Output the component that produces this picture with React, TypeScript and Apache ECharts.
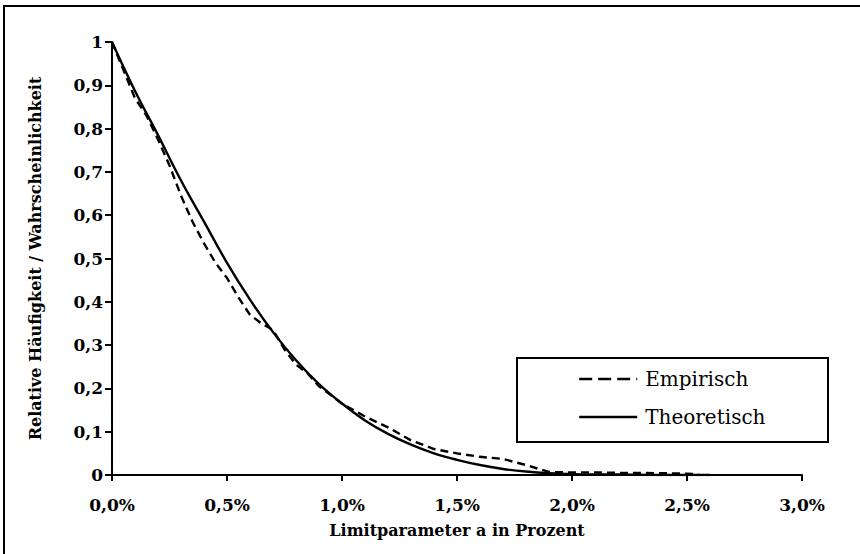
import React, { useEffect, useRef } from "react";
import * as echarts from "echarts";

// Limitparameter a in Prozent
const empX = [0, 0.05, 0.1, 0.15, 0.2, 0.25, 0.3, 0.35, 0.4, 0.45, 0.5, 0.55, 0.6, 0.65, 0.7, 0.75, 0.8, 0.85, 0.9, 0.95, 1.0, 1.05, 1.1, 1.2, 1.3, 1.4, 1.5, 1.6, 1.7, 1.8, 1.9, 2.0, 2.1, 2.2, 2.3, 2.4, 2.5, 2.55];
const empY = [1.0, 0.935, 0.87, 0.83, 0.775, 0.715, 0.645, 0.585, 0.535, 0.49, 0.455, 0.41, 0.37, 0.35, 0.335, 0.29, 0.255, 0.235, 0.205, 0.185, 0.165, 0.15, 0.135, 0.11, 0.08, 0.06, 0.05, 0.042, 0.037, 0.023, 0.007, 0.006, 0.006, 0.005, 0.005, 0.004, 0.003, 0.002];

const theoX = [0, 0.1, 0.2, 0.3, 0.4, 0.5, 0.6, 0.7, 0.8, 0.9, 1.0, 1.1, 1.2, 1.3, 1.4, 1.5, 1.6, 1.7, 1.8, 1.9, 2.0, 2.2, 2.4, 2.6];
const theoY = [1.0, 0.887, 0.785, 0.68, 0.585, 0.49, 0.405, 0.33, 0.265, 0.21, 0.165, 0.126, 0.095, 0.07, 0.05, 0.035, 0.023, 0.014, 0.008, 0.004, 0.002, 0.001, 0.0, 0.0];

const seriesNames = ["Empirisch", "Theoretisch"];
const xTitle = "Limitparameter a in Prozent";
const yTitle = "Relative Häufigkeit / Wahrscheinlichkeit";

const FONT = "DejaVu Serif";

export default function App() {
  const ref = useRef<HTMLDivElement>(null);
  useEffect(() => {
    document.body.style.margin = "0";
    if (!ref.current) return;
    const chart = echarts.init(ref.current, undefined, { renderer: "svg" });
    const empData = empX.map((x, i) => [x, empY[i]]);
    const theoData = theoX.map((x, i) => [x, theoY[i]]);
    chart.setOption({
      animation: false,
      backgroundColor: "#ffffff",
      grid: { left: 112, right: 58, top: 42, bottom: 79, containLabel: false },
      xAxis: {
        type: "value",
        min: 0,
        max: 3,
        interval: 0.5,
        name: xTitle,
        nameLocation: "middle",
        nameGap: 47,
        nameTextStyle: { fontFamily: FONT, fontWeight: "bold", fontSize: 16, color: "#000" },
        axisLine: { lineStyle: { color: "#000", width: 2 } },
        axisTick: { show: true, length: 6, lineStyle: { color: "#000", width: 2 } },
        axisLabel: {
          color: "#000",
          fontFamily: FONT,
          fontWeight: "bold",
          fontSize: 17,
          margin: 21,
          formatter: (v: number) => v.toFixed(1).replace(".", ",") + "%",
        },
        splitLine: { show: false },
      },
      yAxis: {
        type: "value",
        min: 0,
        max: 1,
        interval: 0.1,
        name: yTitle,
        nameLocation: "middle",
        nameGap: 69,
        nameRotate: 90,
        nameTextStyle: { fontFamily: FONT, fontWeight: "bold", fontSize: 16, color: "#000" },
        axisLine: { show: true, lineStyle: { color: "#000", width: 2 } },
        axisTick: { show: true, length: 7, lineStyle: { color: "#000", width: 2 } },
        axisLabel: {
          color: "#000",
          fontFamily: FONT,
          fontWeight: "bold",
          fontSize: 17,
          margin: 9,
          formatter: (v: number) => {
            if (Math.abs(v) < 1e-9) return "0";
            if (Math.abs(v - 1) < 1e-9) return "1";
            return v.toFixed(1).replace(".", ",");
          },
        },
        splitLine: { show: false },
      },
      legend: {
        orient: "vertical",
        left: 578,
        top: 369,
        itemWidth: 58,
        itemHeight: 14,
        itemGap: 18,
        padding: 0,
        itemStyle: { opacity: 0 },
        textStyle: { fontFamily: FONT, fontSize: 20, color: "#000", padding: [0, 0, 0, 3] },
        data: [
          { name: seriesNames[0], lineStyle: { type: [13, 6], width: 2.4, color: "#000" } },
          { name: seriesNames[1], lineStyle: { width: 2.4, color: "#000" } },
        ],
      },
      graphic: [
        {
          type: "rect",
          shape: { x: 4, y: 6, width: 900, height: 600 },
          style: { fill: "none", stroke: "#000", lineWidth: 2 },
          silent: true,
        },
        {
          type: "rect",
          shape: { x: 517, y: 358, width: 311, height: 84 },
          style: { fill: "#fff", stroke: "#000", lineWidth: 2 },
          silent: true,
          z: -1,
        },
      ],
      series: [
        {
          name: seriesNames[0],
          type: "line",
          data: empData,
          showSymbol: false,
          symbol: "none",
          smooth: false,
          lineStyle: { color: "#000", width: 2.4, type: [8, 5] },
          itemStyle: { color: "#000" },
          z: 3,
        },
        {
          name: seriesNames[1],
          type: "line",
          data: theoData,
          showSymbol: false,
          symbol: "none",
          smooth: 0.4,
          lineStyle: { color: "#000", width: 2.4, type: "solid" },
          itemStyle: { color: "#000" },
          z: 2,
        },
      ],
    });
    return () => chart.dispose();
  }, []);
  return <div ref={ref} style={{ width: 860, height: 554 }} />;
}
